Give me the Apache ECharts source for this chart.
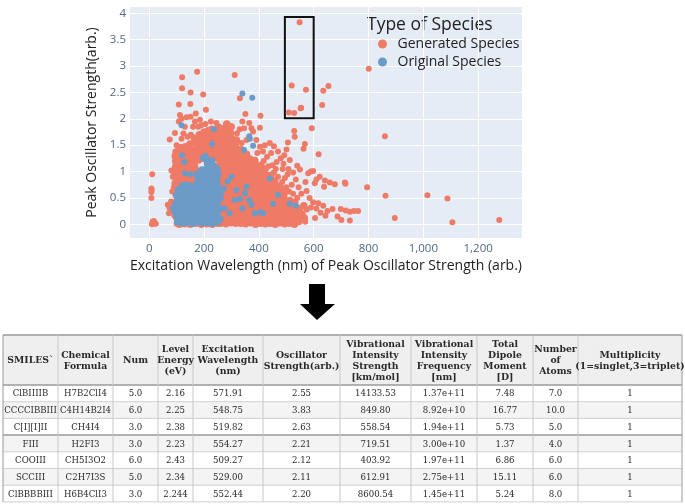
<!DOCTYPE html>
<html><head><meta charset="utf-8">
<script src="https://cdn.jsdelivr.net/npm/echarts@6/dist/echarts.min.js"></script>
<style>html,body{margin:0;padding:0;background:#fff}#c{width:685px;height:504px}</style>
</head><body><div id="c"></div>
<script>
// ---------- table data ----------
const smiles = ['ClBIIIIB','CCCCIBBIII','C[I][I]II','FIII','COOIII','SCCIII','ClBBBBIII'];
const formulas = ['H7B2ClI4','C4H14B2I4','CH4I4','H2FI3','CH5I3O2','C2H7I3S','H6B4ClI3'];
const nums = ['5.0','6.0','3.0','3.0','6.0','5.0','3.0'];
const levelEnergy = ['2.16','2.25','2.38','2.23','2.43','2.34','2.244'];
const excitation = [571.91,548.75,519.82,554.27,509.27,529.00,552.44];
const oscStrength = [2.55,3.83,2.63,2.21,2.12,2.11,2.20];
const vibStrength = ['14133.53','849.80','558.54','719.51','403.92','612.91','8600.54'];
const vibFreq = ['1.37e+11','8.92e+10','1.94e+11','3.00e+10','1.97e+11','2.75e+11','1.45e+11'];
const dipole = ['7.48','16.77','5.73','1.37','6.86','15.11','5.24'];
const atoms = ['7.0','10.0','5.0','4.0','6.0','6.0','8.0'];
const multiplicity = ['1','1','1','1','1','1','1'];
const headers = ['SMILES`','Chemical\nFormula','Num','Level\nEnergy\n(eV)','Excitation\nWavelength\n(nm)','Oscillator\nStrength(arb.)','Vibrational\nIntensity\nStrength\n[km/mol]','Vibrational\nIntensity\nFrequency\n[nm]','Total\nDipole\nMoment\n[D]','Number\nof\nAtoms','Multiplicity\n(1=singlet,3=triplet)'];

// ---------- scatter data ----------
const xTicks = [0,200,400,600,800,1000,1200];
const yTicks = [0,0.5,1,1.5,2,2.5,3,3.5,4];
const highlightBox = [[495,2.01],[600,3.93]];

const generatedOutliers = [
[11,0.95],[8,0.68],[9,0.65],[8,0.61],[8,0.5],[12,0.05],[15,0.02],[19,0.04],[24,0.01],[10,0.0],[17,0.06],[13,0.01],
[68,0.37],[74,0.31],[72,0.21],[80,0.43],[86,0.28],[88,0.36],[92,0.16],[96,0.55],[90,0.7],[84,0.62],[86,0.9],[81,1.02],[94,1.2],[100,1.5],[102,1.38],[75,1.61],[94,1.73],[104,0.05],[100,0.01],[98,0.12],[97,0.24],[99,0.45],
[108,1.95],[112,2.07],[108,2.27],[120,2.58],[120,2.79],[151,2.5],[150,2.28],[175,2.89],[197,2.46],[207,2.17],[118,2.0],[130,1.85],[125,1.72],[136,2.03],[151,2.04],[160,1.85],[167,1.95],[179,1.85],[170,2.1],[190,1.88],[225,1.95],[245,1.92],[140,1.66],[118,1.62],[152,1.7],[185,1.98],[205,1.9],
[312,2.83],[331,2.39],[351,2.09],[406,2.06],[404,1.83],[346,1.82],[373,1.82],[379,1.76],[355,1.6],[391,1.6],[337,1.54],[404,1.47],[422,1.5],[440,1.54],[330,1.8],[320,1.72],[340,1.95],[365,1.92],[455,1.48],[445,1.35],[470,1.38],[480,1.25],[465,1.18],[450,1.12],[430,1.28],[415,1.38],[395,1.35],
[635,2.53],[654,2.62],[631,2.26],[801,2.95],[860,1.67],[593,1.82],[529,1.77],[531,1.66],[506,1.55],[568,1.52],[563,1.43],[618,1.33],[501,1.42],[493,1.31],[513,1.22],[540,1.11],[550,1.04],[525,0.98],[580,0.97],[590,1.0],[598,1.01],[610,0.85],[604,0.78],[622,0.9],[641,0.83],[659,0.79],[677,0.76],[714,0.79],[716,0.77],[638,0.71],[795,0.7],[574,0.63],[862,0.54],[1015,0.55],[1088,0.49],[896,0.12],[1106,0.04],[1277,0.08],[669,0.29],[699,0.29],[717,0.26],[732,0.24],[747,0.25],[762,0.25],[643,0.16],[687,0.15],[701,0.08],[732,0.07],[605,0.12],[569,0.05],[547,0.04],[560,0.2],[575,0.28],[590,0.32],[610,0.3],[625,0.22],[650,0.25],[635,0.35],[598,0.42],[585,0.5],[617,0.4],[555,0.58],[545,0.7],[570,0.8],[535,0.85],[520,0.75],[508,1.05],[490,1.15],
[455,0.98],[470,0.9],[485,0.8],[500,0.7],[495,0.88],[510,0.62],[525,0.58],[540,0.5],[505,0.95],[487,1.05],[462,1.05],[435,1.1],[418,1.2]
];
const generatedCore = [
[95,0.78],[97,0.89],[93,0.98],[96,1.08],[99,1.16],[95,1.29],[98,1.37],
[113,0.76],[111,0.86],[115,0.95],[112,1.05],[114,1.16],[110,1.25],[116,1.34],[113,1.45],
[131,0.77],[129,0.87],[133,0.98],[130,1.07],[132,1.18],[128,1.27],[134,1.38],[131,1.47],
[149,0.8],[151,0.9],[147,1.0],[150,1.1],[152,1.19],[148,1.3],[151,1.41],[149,1.52],
[167,0.78],[165,0.88],[169,0.99],[166,1.09],[168,1.2],[164,1.31],[170,1.42],[167,1.55],[165,1.63],
[180,1.22],[182,1.32],[178,1.42],[181,1.52],[179,1.62],[183,1.7],
[197,1.25],[199,1.35],[195,1.45],[198,1.55],[196,1.66],[200,1.75],
[214,1.28],[216,1.37],[212,1.47],[215,1.58],[213,1.68],[217,1.78],
[232,1.26],[230,1.36],[234,1.46],[231,1.57],[233,1.67],[229,1.8],
[250,1.25],[248,1.34],[252,1.44],[249,1.55],[251,1.65],[247,1.74],[253,1.84],
[180,1.0],[245,1.1],[255,0.95],[185,0.85],[110,0.6],[130,0.4],[150,0.2],[200,0.3],[240,0.5],[260,0.65],
[110,0.0],[130,0.01],[150,0.0],[170,0.02],[190,0.0],[210,0.01],[230,0.0],[250,0.02],
[260,0.02],[264,0.11],[261,0.2],[263,0.31],[259,0.4],[262,0.5],[265,0.6],[261,0.71],[263,0.8],[260,0.9],[264,1.0],[262,1.1],[259,1.21],[263,1.3],[261,1.4],[264,1.5],[260,1.6],[262,1.71],[265,1.8],
[280,0.01],[278,0.1],[282,0.21],[279,0.3],[281,0.41],[277,0.51],[283,0.6],[280,0.7],[278,0.81],[282,0.91],[279,1.01],[281,1.11],[283,1.2],[277,1.31],[280,1.41],[282,1.51],[278,1.62],[281,1.72],[279,1.83],[283,1.9],
[298,0.03],[296,0.12],[300,0.22],[297,0.32],[299,0.42],[295,0.52],[301,0.62],[298,0.72],[296,0.82],[300,0.92],[297,1.02],[299,1.12],[295,1.22],[301,1.32],[298,1.42],[296,1.52],[300,1.62],[297,1.73],[299,1.85],
[316,0.02],[314,0.1],[318,0.2],[315,0.3],[317,0.4],[313,0.5],[319,0.6],[316,0.7],[314,0.8],[318,0.9],[315,1.0],[317,1.1],[313,1.2],[319,1.3],[316,1.4],[314,1.5],[318,1.6],
[334,0.02],[332,0.12],[336,0.21],[333,0.31],[335,0.41],[331,0.5],[337,0.6],[334,0.7],[332,0.8],[336,0.9],[333,1.0],[335,1.1],[331,1.2],[337,1.31],[334,1.42],
[352,0.01],[350,0.11],[354,0.2],[351,0.3],[353,0.4],[349,0.51],[355,0.61],[352,0.71],[350,0.8],[354,0.91],[351,1.01],[353,1.12],[349,1.22],[355,1.33],
[370,0.03],[368,0.12],[372,0.22],[369,0.32],[371,0.42],[367,0.52],[373,0.62],[370,0.72],[368,0.82],[372,0.92],[369,1.03],[371,1.13],[367,1.24],
[388,0.0],[386,0.1],[390,0.2],[387,0.3],[389,0.4],[385,0.5],[391,0.6],[388,0.7],[386,0.8],[390,0.9],[387,1.0],[389,1.1],[385,1.21],
[406,0.02],[404,0.11],[408,0.21],[405,0.31],[407,0.41],[403,0.51],[409,0.61],[406,0.71],[404,0.81],[408,0.92],[405,1.02],[407,1.12],
[424,0.01],[422,0.1],[426,0.2],[423,0.3],[425,0.4],[421,0.5],[427,0.6],[424,0.7],[422,0.81],[426,0.93],[423,1.05],
[442,0.02],[440,0.12],[444,0.22],[441,0.32],[443,0.42],[439,0.52],[445,0.62],[442,0.72],[440,0.82],[444,0.93],
[460,0.0],[458,0.1],[462,0.2],[459,0.3],[461,0.4],[457,0.5],[463,0.6],[460,0.71],[458,0.82],
[477,0.03],[475,0.13],[479,0.23],[476,0.33],[478,0.43],[474,0.53],[480,0.63],[477,0.72],
[494,0.01],[492,0.1],[496,0.2],[493,0.3],[495,0.41],[491,0.52],[497,0.62],
[512,0.02],[510,0.12],[514,0.22],[511,0.33],[513,0.45],
[530,0.0],[528,0.1],[532,0.21],[529,0.32],[531,0.42],
[548,0.08],[546,0.18],[550,0.3],
[566,0.12],[564,0.35]
];
const originalCore = [
[104,0.05],[102,0.15],[106,0.25],[103,0.35],[105,0.45],[101,0.55],[107,0.65],
[122,0.03],[120,0.13],[124,0.23],[121,0.33],[123,0.43],[119,0.53],[125,0.63],[122,0.73],
[140,0.04],[138,0.14],[142,0.24],[139,0.34],[141,0.44],[137,0.54],[143,0.64],[140,0.74],
[158,0.02],[156,0.12],[160,0.22],[157,0.32],[159,0.42],[155,0.52],[161,0.62],[158,0.72],
[176,0.05],[174,0.15],[178,0.25],[175,0.35],[177,0.45],[173,0.55],[179,0.65],[176,0.75],[178,0.85],[175,0.95],
[194,0.03],[192,0.13],[196,0.23],[193,0.33],[195,0.43],[191,0.53],[197,0.63],[194,0.73],[192,0.83],[196,0.93],[193,1.03],
[212,0.04],[210,0.14],[214,0.24],[211,0.34],[213,0.44],[209,0.54],[215,0.64],[212,0.74],[210,0.84],[214,0.94],[211,1.04],[213,1.14],[210,1.22],
[230,0.02],[228,0.12],[232,0.22],[229,0.32],[231,0.42],[227,0.52],[233,0.62],[230,0.72],[228,0.82],[232,0.92],[229,1.02],[231,1.12],[228,1.2],
[248,0.05],[246,0.15],[250,0.25],[247,0.35],[249,0.45],[245,0.55],[251,0.65],[248,0.75],[246,0.85],[250,0.95],[247,1.05],
[258,0.1],[257,0.3],[259,0.5]
];
const originalOutliers = [
[86,0.31],[92,0.27],[95,0.4],[93,0.22],
[118,1.88],[236,1.8],[230,1.52],[365,1.67],[367,1.62],[379,1.49],[346,1.41],[440,0.87],[470,0.56],[452,0.39],[535,0.35],[513,0.39],[404,0.23],[416,0.21],[385,0.21],[373,0.37],[365,0.46],[294,0.21],[312,0.46],[331,0.48],[349,0.59],[355,0.71],[318,0.65],[286,0.81],[300,0.9],[265,0.62],[272,0.68],[120,1.31],[128,1.18],[150,0.95],[130,0.97],[340,2.48],[376,2.4],[205,1.3],[195,1.25],[340,0.3],[275,0.3]
];

const highlighted = excitation.map((x,i)=>[x, oscStrength[i]]);

// ---------- layout ----------
const colX = [3,58,113,158,193,263,340,411,477,533,578,682];
const tableTop = 335, headerH = 50, rowH = 16.7;
const serif = 'DejaVu Serif';

const tableRows = smiles.map((s,i)=>[s, formulas[i], nums[i], levelEnergy[i], excitation[i].toFixed(2), oscStrength[i].toFixed(2), vibStrength[i], vibFreq[i], dipole[i], atoms[i], multiplicity[i]]);

const g = [];
const tableBottom = tableTop + headerH + rowH*tableRows.length;
const tableW = colX[colX.length-1]-colX[0];
g.push({type:'rect', silent:true, shape:{x:colX[0], y:tableTop, width:tableW, height:headerH}, style:{fill:'#efefef'}});
tableRows.forEach((r,i)=>{
  if (i%2===1) g.push({type:'rect', silent:true, shape:{x:colX[0], y:tableTop+headerH+rowH*i, width:tableW, height:rowH}, style:{fill:'#f4f4f4'}});
});
for (let i=0;i<=tableRows.length;i++){
  const y = tableTop+headerH+rowH*i;
  const strong = (i===0||i===3);
  g.push({type:'line', silent:true, shape:{x1:colX[0], y1:y, x2:colX[colX.length-1], y2:y}, style:{stroke: strong?'#9a9a9a':'#d0d0d0', lineWidth: strong?1.5:1}});
}
g.push({type:'line', silent:true, shape:{x1:colX[0], y1:tableTop, x2:colX[colX.length-1], y2:tableTop}, style:{stroke:'#9a9a9a', lineWidth:1.5}});
colX.forEach((x,j)=>{
  const outer = (j===0||j===colX.length-1);
  g.push({type:'line', silent:true, shape:{x1:x, y1:tableTop, x2:x, y2:tableBottom}, style:{stroke:outer?'#9a9a9a':'#c8c8c8', lineWidth:1}});
});
headers.forEach((h,j)=>{
  g.push({type:'text', silent:true, x:(colX[j]+colX[j+1])/2, y:tableTop+headerH/2+0.5, scaleX:0.93,
    style:{text:h, align:'center', verticalAlign:'middle', fontFamily:serif, fontWeight:'bold', fontSize:10, lineHeight:11, fill:'#2a2a2a'}});
});
tableRows.forEach((r,i)=>{
  r.forEach((v,j)=>{
    g.push({type:'text', silent:true, x:(colX[j]+colX[j+1])/2, y:tableTop+headerH+rowH*i+rowH/2+0.5, scaleX:0.86,
      style:{text:v, align:'center', verticalAlign:'middle', fontFamily:serif, fontSize:10, fill:'#2a2a2a'}});
  });
});
g.push({type:'polygon', silent:true, shape:{points:[[309,284],[325,284],[325,304],[335,304],[317,320],[300,304],[309,304]]}, style:{fill:'#000'}});
g.push({type:'text', silent:true, x:367, y:25, style:{text:'Type of Species', fontFamily:'Open Sans', fontSize:17.5, fill:'#222', verticalAlign:'middle'}});

const genStyle = {color:'#ef7b66', opacity:1};
const origStyle = {color:'#6b9bc7', opacity:1};
const chart = echarts.init(document.getElementById('c'));
chart.setOption({
  animation:false,
  backgroundColor:'#fff',
  grid:{left:130, top:7, width:392, height:231, show:true, backgroundColor:'#e5ecf6', borderWidth:0},
  xAxis:{type:'value', min:-70, max:1360,
    name:'Excitation Wavelength (nm) of Peak Oscillator Strength (arb.)', nameLocation:'middle', nameGap:21,
    nameTextStyle:{fontFamily:'Open Sans', fontSize:14, color:'#222'},
    axisLine:{show:false}, axisTick:{show:false, customValues:xTicks},
    axisLabel:{customValues:xTicks, fontFamily:'Open Sans', fontSize:11.5, color:'#506784', margin:5},
    splitLine:{show:true, lineStyle:{color:'#ffffff', width:1}}},
  yAxis:{type:'value', min:-0.26, max:4.12,
    name:'Peak Oscillator Strength(arb.)', nameLocation:'middle', nameGap:31, nameRotate:90,
    nameTextStyle:{fontFamily:'Open Sans', fontSize:14, color:'#222'},
    axisLabel:{customValues:yTicks, fontFamily:'Open Sans', fontSize:11.5, color:'#506784', margin:4},
    axisLine:{show:false}, axisTick:{show:false, customValues:yTicks},
    splitLine:{show:true, lineStyle:{color:'#ffffff', width:1}}},
  legend:{orient:'vertical', left:378, top:37, padding:0, itemGap:4, itemWidth:20, itemHeight:9, icon:'circle', selectedMode:false,
    textStyle:{fontFamily:'Open Sans', fontSize:14, color:'#222', lineHeight:14},
    data:['Generated Species','Original Species']},
  series:[
    {type:'scatter', name:'Generated Species', data:generatedOutliers.concat(highlighted), symbolSize:6, itemStyle:genStyle,
     markArea:{silent:true, itemStyle:{color:'rgba(0,0,0,0)', borderColor:'#111', borderWidth:2, borderRadius:2}, data:[[{coord:highlightBox[0]},{coord:highlightBox[1]}]]}},
    {type:'scatter', name:'Generated Species', data:generatedCore, symbolSize:7.5, itemStyle:genStyle},
    {type:'scatter', name:'Original Species', data:originalCore, symbolSize:7.5, itemStyle:origStyle},
    {type:'scatter', name:'Original Species', data:originalOutliers, symbolSize:6, itemStyle:origStyle}
  ],
  graphic:g
});
</script></body></html>
